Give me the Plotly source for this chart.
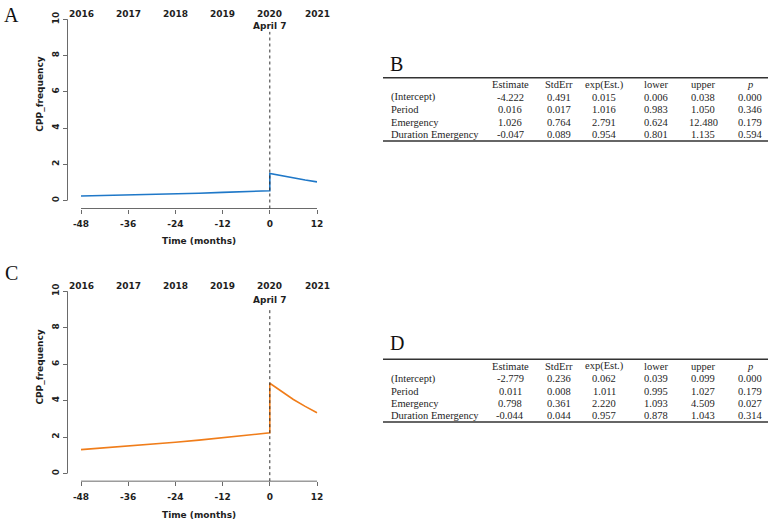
import plotly.graph_objects as go

# ---------------- data ----------------
months_pre = [-48, -42, -36, -30, -24, -18, -12, -6, 0]
months_post = [0, 3, 6, 9, 12]
freq_A_pre = [0.25, 0.276, 0.30, 0.33, 0.37, 0.40, 0.45, 0.49, 0.54]
freq_A_post = [1.50, 1.37, 1.25, 1.13, 1.03]
freq_C_pre = [1.31, 1.40, 1.50, 1.60, 1.71, 1.83, 1.95, 2.09, 2.23]
freq_C_post = [4.95, 4.48, 4.06, 3.68, 3.33]

x_ticks = [-48, -36, -24, -12, 0, 12]
x_tick_labels = ["-48", "-36", "-24", "-12", "0", "12"]
y_ticks = [0, 2, 4, 6, 8, 10]
years = ["2016", "2017", "2018", "2019", "2020", "2021"]
event_label = "April 7"

table_cols = ["Estimate", "StdErr", "exp(Est.)", "lower", "upper", "<i>p</i>"]
table_rows = ["(Intercept)", "Period", "Emergency", "Duration Emergency"]
table_B = [
    ["-4.222", "0.491", "0.015", "0.006", "0.038", "0.000"],
    ["0.016", "0.017", "1.016", "0.983", "1.050", "0.346"],
    ["1.026", "0.764", "2.791", "0.624", "12.480", "0.179"],
    ["-0.047", "0.089", "0.954", "0.801", "1.135", "0.594"],
]
table_D = [
    ["-2.779", "0.236", "0.062", "0.039", "0.099", "0.000"],
    ["0.011", "0.008", "1.011", "0.995", "1.027", "0.179"],
    ["0.798", "0.361", "2.220", "1.093", "4.509", "0.027"],
    ["-0.044", "0.044", "0.957", "0.878", "1.043", "0.314"],
]

# ---------------- layout helpers ----------------
W, H = 778, 523
BLUE = "#1f78c8"
ORANGE = "#f07d1a"
AX = "#6a6a6a"
TXT = "#1e1e1e"
SANS = "DejaVu Sans"
SERIF = "Liberation Serif"


def px(x):
    return x / W


def py(y):
    return 1 - y / H


fig = go.Figure()

fig.add_trace(go.Scatter(x=months_pre + months_post, y=freq_A_pre + freq_A_post,
                         mode="lines", line=dict(color=BLUE, width=1.6),
                         xaxis="x", yaxis="y", showlegend=False))
fig.add_trace(go.Scatter(x=months_pre + months_post, y=freq_C_pre + freq_C_post,
                         mode="lines", line=dict(color=ORANGE, width=1.6),
                         xaxis="x2", yaxis="y2", showlegend=False))

tickfont = dict(family=SANS, size=9, color=TXT, weight="bold")

# panel geometry (pixels)
x_left_px, x_right_px = 67.5, 325.0
x_m48_px, x_12_px = 81.0, 317.0
mpp = (12 - (-48)) / (x_12_px - x_m48_px)
x_range = [-48 - (x_m48_px - x_left_px) * mpp, 12 + (x_right_px - x_12_px) * mpp]

panels = [
    # (suffix, y of axis line px, y of value 0 px, px per unit, top px)
    ("", 207.3, 199.3, 18.2, 12.0),
    ("2", 481.0, 473.3, 18.3, 283.0),
]

layout_axes = {}
for suf, yline, y0, ppu, ytop in panels:
    yr = [-(yline - y0) / ppu, (y0 - ytop) / ppu]
    xa = "xaxis" + suf
    ya = "yaxis" + suf
    layout_axes[xa] = dict(
        domain=[px(x_left_px), px(x_right_px)], range=x_range, anchor="y" + suf,
        tickvals=x_ticks, ticktext=x_tick_labels, ticks="outside", ticklen=4,
        tickcolor=AX, tickwidth=1,
        showline=False, showgrid=False, zeroline=False, tickfont=tickfont,
        ticklabelstandoff=3, fixedrange=True)
    layout_axes[ya] = dict(
        domain=[py(yline), py(ytop)], range=yr, anchor="x" + suf,
        tickvals=y_ticks, ticks="outside", ticklen=4, tickcolor=AX, tickwidth=1,
        tickangle=-90, showline=False, showgrid=False, zeroline=False,
        tickfont=tickfont, fixedrange=True)

fig.update_layout(**layout_axes)

shapes = []
annotations = []

for (suf, yline, y0, ppu, ytop), ytext, yapr, ydash, ytitle_y, ytitle_x in zip(
        panels, [12, 285], [24, 299], [30, 306.5], [93, 367], [240, 515]):
    xr = "x" + suf
    yref = "y" + suf
    ybottom = -(yline - y0) / ppu
    # axis lines (R style, limited to tick range)
    shapes.append(dict(type="line", xref=xr + " domain", yref=yref, x0=0, x1=0,
                       y0=y_ticks[0], y1=y_ticks[-1], line=dict(color=AX, width=1)))
    shapes.append(dict(type="line", xref=xr, yref=yref + " domain", x0=x_ticks[0],
                       x1=x_ticks[-1], y0=0, y1=0, line=dict(color=AX, width=1)))
    # event line
    shapes.append(dict(type="line", xref=xr, yref=yref, x0=0, x1=0, y0=ybottom,
                       y1=(y0 - ydash) / ppu, line=dict(color="#333", width=1, dash="dot")))
    # year labels on top
    for m, yr_lbl in zip(x_ticks, years):
        annotations.append(dict(x=m, y=py(ytext), xref=xr, yref="paper", text=yr_lbl,
                                showarrow=False, xanchor="center", yanchor="middle",
                                font=dict(family=SANS, size=9, color=TXT, weight="bold")))
    annotations.append(dict(x=0, y=py(yapr), xref=xr, yref="paper", text=event_label,
                            showarrow=False, xanchor="center", yanchor="middle",
                            font=dict(family=SANS, size=9, color=TXT, weight="bold")))
    # axis titles
    annotations.append(dict(x=px(40), y=py(ytitle_y), xref="paper", yref="paper",
                            text="CPP_frequency", textangle=-90, showarrow=False,
                            xanchor="center", yanchor="middle",
                            font=dict(family=SANS, size=9, color=TXT, weight="bold")))
    annotations.append(dict(x=-18, y=py(ytitle_x), xref=xr, yref="paper",
                            text="Time (months)", showarrow=False,
                            xanchor="center", yanchor="middle",
                            font=dict(family=SANS, size=9, color=TXT, weight="bold")))

# panel letters
for letter, lx, ly in [("A", 11, 13), ("B", 396, 62), ("C", 11, 272), ("D", 397, 342)]:
    annotations.append(dict(x=px(lx), y=py(ly), xref="paper", yref="paper", text=letter,
                            showarrow=False, xanchor="center", yanchor="middle",
                            font=dict(family=SERIF, size=20, color="#111")))

# tables
col_x = [510, 559, 604, 656, 703, 750]
label_x = 389
tfont = dict(family=SERIF, size=10.5, color=TXT)
for vals, top_rule, header_y, row_ys, bottom_rule in [
        (table_B, 76, 83, [95.5, 108, 120.5, 133], 139.5),
        (table_D, 358.5, 365.5, [378, 390.5, 403, 415.5], 421.5)]:
    shapes.append(dict(type="line", xref="paper", yref="paper", x0=px(383), x1=px(768),
                       y0=py(top_rule), y1=py(top_rule), line=dict(color="#333", width=1.5)))
    shapes.append(dict(type="line", xref="paper", yref="paper", x0=px(383), x1=px(768),
                       y0=py(bottom_rule), y1=py(bottom_rule), line=dict(color="#333", width=1.5)))
    for cx, c in zip(col_x, table_cols):
        annotations.append(dict(x=px(cx), y=py(header_y), xref="paper", yref="paper", text=c,
                                showarrow=False, xanchor="center", yanchor="middle", font=tfont))
    for ry, rlabel, rvals in zip(row_ys, table_rows, vals):
        annotations.append(dict(x=px(label_x), y=py(ry), xref="paper", yref="paper", text=rlabel,
                                showarrow=False, xanchor="left", yanchor="middle", font=tfont))
        for cx, v in zip(col_x, rvals):
            annotations.append(dict(x=px(cx), y=py(ry), xref="paper", yref="paper", text=v,
                                    showarrow=False, xanchor="center", yanchor="middle", font=tfont))

fig.update_layout(
    width=W, height=H, margin=dict(l=0, r=0, t=0, b=0),
    paper_bgcolor="white", plot_bgcolor="white",
    shapes=shapes, annotations=annotations, showlegend=False,
)

fig.write_html(
    "out.html",
    config={"displayModeBar": False},
    post_script="document.body.style.margin='0';document.body.style.overflow='hidden';",
)
